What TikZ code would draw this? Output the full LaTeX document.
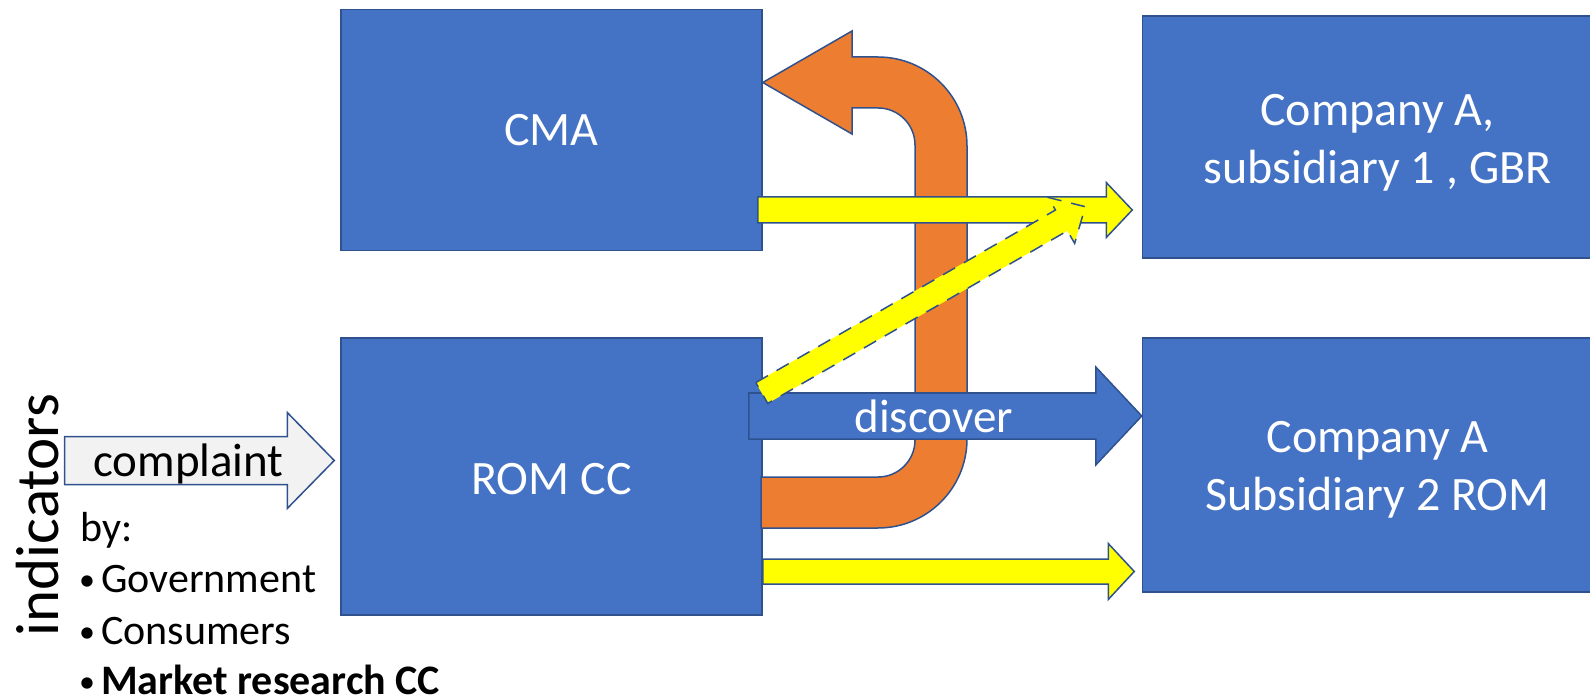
\documentclass[tikz,border=0pt]{standalone}
\usepackage{fontspec}
\setmainfont{Carlito}
\usetikzlibrary{calc}
\definecolor{boxblue}{HTML}{4472C4}
\definecolor{edgeblue}{HTML}{2F528F}
\definecolor{arroworange}{HTML}{ED7D31}
\definecolor{arrowyellow}{HTML}{FFFF00}
\definecolor{complaintgray}{HTML}{F2F2F2}
\tikzset{
  box/.style={draw=edgeblue, fill=boxblue, line width=1.5pt, text=white, inner sep=0pt,
    align=center, font=\fontsize{48}{58}\selectfont},
  boxtext/.style={text=white, inner sep=0pt, align=center, font=\fontsize{48}{58}\selectfont},
  orangearrow/.style={draw=edgeblue, fill=arroworange, line width=1.5pt},
  yellowarrow/.style={draw=edgeblue, fill=arrowyellow, line width=1.5pt},
  bluearrow/.style={draw=edgeblue, fill=boxblue, line width=1.5pt},
  grayarrow/.style={draw=edgeblue, fill=complaintgray, line width=1.5pt},
  listtext/.style={inner sep=0pt, anchor=base west, font=\fontsize{42}{52}\selectfont}
}
% block arrow: style, tail, tip, shaft half width, head half width, head length
\newcommand{\blockarrow}[6]{%
  \coordinate (ba-h) at ($(#3)!#6!(#2)$);
  \draw[#1] ($(#2)!#4!90:(#3)$) -- ($(ba-h)!#4!-90:(#2)$) -- ($(ba-h)!#5!-90:(#2)$)
    -- (#3) -- ($(ba-h)!#5!90:(#2)$) -- ($(ba-h)!#4!90:(#2)$)
    -- ($(#2)!#4!-90:(#3)$) -- cycle;}
\newcommand{\listdot}{\makebox[22pt][l]{\raisebox{2pt}{\fontsize{32}{32}\selectfont •}}}

\begin{document}
\begin{tikzpicture}[x=1pt,y=-1pt]
\useasboundingbox (0,0) rectangle (1590,700);
% the four boxes
\node[box, minimum width=421pt, minimum height=241pt] (cma) at (551.5,130) {CMA};
\node[box, minimum width=421pt, minimum height=277pt] (rom) at (551.5,476.5) {};
\node[boxtext] (romtext) at ([yshift=-3pt]rom.center) {ROM CC};
\node[box, minimum width=470pt, minimum height=242pt] (sub1) at (1377.5,137) {};
\node[boxtext] (sub1text) at ([yshift=-6pt]sub1.center) {Company A,\\subsidiary 1 , GBR};
\node[box, minimum width=470pt, minimum height=254pt] (sub2) at (1377.5,465) {};
\node[boxtext] (sub2text) at ([yshift=-5pt]sub2.center) {Company A\\Subsidiary 2 ROM};

% u-turn from ROM CC back to CMA
\draw[orangearrow] (761,528) -- (878,528) arc[start angle=-90, end angle=0, radius=89pt]
  -- (967,146) arc[start angle=0, end angle=90, radius=89pt]
  -- (852,57) -- (852,31) -- (cma.east |- 0,82.5) -- (852,134) -- (852,108) -- (878,108)
  arc[start angle=90, end angle=0, radius=37pt]
  -- (915,440) arc[start angle=0, end angle=-90, radius=37pt] -- (761,477) -- cycle;

% yellow arrows
\coordinate (ya) at ($(cma.east)+(-5,80)$);
\coordinate (yb) at ($(sub1.west |- ya)+(-9.5,0)$);
\blockarrow{yellowarrow}{ya}{yb}{13pt}{27.5pt}{26pt}
\coordinate (yc) at ($(rom.east)+(0,95)$);
\coordinate (yd) at ($(sub2.west |- yc)+(-7.5,0)$);
\blockarrow{yellowarrow}{yc}{yd}{12.5pt}{28pt}{26pt}

% discover
\coordinate (da) at ($(rom.east)+(-14,-60.5)$);
\coordinate (db) at (sub2.west |- da);
\blockarrow{bluearrow}{da}{db}{23pt}{49pt}{46pt}
\node[inner sep=0pt, anchor=base, text=white, font=\fontsize{47}{56}\selectfont] (disc) at ($(da)+(185,16)$) {discover};

% dashed yellow arrow
\coordinate (ga) at ($(rom.east)+(-1,-83.5)$);
\coordinate (gb) at ($(yb)+(-47,-3.3)$);
\blockarrow{yellowarrow, dash pattern=on 14pt off 10pt}{ga}{gb}{12pt}{26.5pt}{27.5pt}

% complaint
\coordinate (ca) at (64.5,460.5);
\coordinate (cb) at ($(rom.west |- ca)+(-6,0)$);
\blockarrow{grayarrow}{ca}{cb}{24pt}{48pt}{47pt}
\node[inner sep=0pt, anchor=base, font=\fontsize{47}{56}\selectfont] (compl) at ($(ca)+(124,16.2)$) {complaint};

% indicators
\node[inner sep=0pt, anchor=base, rotate=90, font=\fontsize{61}{73}\selectfont] (ind) at (58,515) {indicators};
\node[listtext] (by) at (80,541.7) {by:};
\node[listtext] (gov) at (79,592) {\listdot Government};
\node[listtext] (cons) at (79,644) {\listdot Consumers};
\node[listtext] (mkt) at (79,694) {\listdot\textbf{Market research CC}};
\end{tikzpicture}
\end{document}
